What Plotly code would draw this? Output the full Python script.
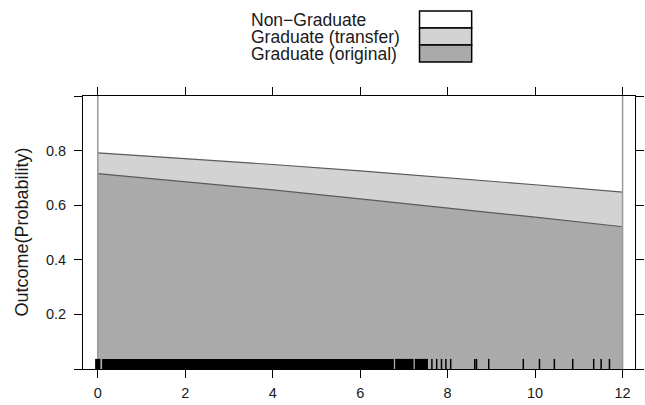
import plotly.graph_objects as go

# Predicted outcome probabilities along the x grid
x_grid = [0, 2, 4, 6, 8, 10, 12]
p_original = [0.716, 0.687, 0.656, 0.623, 0.590, 0.556, 0.521]
p_transfer = [0.076, 0.084, 0.093, 0.103, 0.111, 0.119, 0.127]
outcomes = ["Non\u2212Graduate", "Graduate (transfer)", "Graduate (original)"]
band_colors = ["#FFFFFF", "#D3D3D3", "#AAAAAA"]

# Rug of observed x values: stretches where ticks merge, then single ticks
rug_dense = [(-0.06, 0.06), (0.10, 6.77), (6.80, 7.22), (7.25, 7.55)]
rug_single = [7.64, 7.75, 7.86, 7.96, 8.07, 8.62, 8.66, 8.94, 9.73,
              10.10, 10.44, 10.86, 11.34, 11.51, 11.70]

x_ticks = [0, 2, 4, 6, 8, 10, 12]
y_ticks = [0.0, 0.2, 0.4, 0.6, 0.8, 1.0]
y_ticktext = ["", "0.2", "0.4", "0.6", "0.8", ""]

FONT = "Liberation Sans, Arial, Helvetica, sans-serif"
TXT = "#1a1a1a"
W, H = 645, 405
L, R, T, B = 83, 1, 96, 36
PW, PH = W - L - R, H - T - B

cum_orig = p_original
cum_trans = [a + b for a, b in zip(p_original, p_transfer)]
top = [1.0] * len(x_grid)
bottom = [0.0] * len(x_grid)

fig = go.Figure()

# stacked bands, drawn as closed polygons
bands = [(cum_trans, top, band_colors[0]),
         (cum_orig, cum_trans, band_colors[1]),
         (bottom, cum_orig, band_colors[2])]
for lower, upper, col in bands:
    fig.add_trace(go.Scatter(
        x=x_grid + x_grid[::-1], y=upper + lower[::-1],
        fill="toself", fillcolor=col, mode="lines",
        line=dict(width=0), hoverinfo="skip", showlegend=False))

# boundary curves between outcomes
for curve in (cum_trans, cum_orig):
    fig.add_trace(go.Scatter(x=x_grid, y=curve, mode="lines",
                             line=dict(color="#5a5a5a", width=1.2),
                             hoverinfo="skip", showlegend=False))

# vertical edges of the band region
for xe in (x_grid[0], x_grid[-1]):
    fig.add_trace(go.Scatter(x=[xe, xe], y=[0, 1], mode="lines",
                             line=dict(color="#9a9a9a", width=1.5),
                             hoverinfo="skip", showlegend=False))

# rug
rug_h = 0.037
for a, b in rug_dense:
    fig.add_trace(go.Scatter(x=[a, b, b, a, a], y=[0, 0, rug_h, rug_h, 0],
                             fill="toself", fillcolor="black", mode="lines",
                             line=dict(width=0), hoverinfo="skip",
                             showlegend=False))
rx, ry = [], []
for v in rug_single:
    rx += [v, v, None]
    ry += [0, rug_h, None]
fig.add_trace(go.Scatter(x=rx, y=ry, mode="lines",
                         line=dict(color="black", width=1.5),
                         hoverinfo="skip", showlegend=False))


def px_to_paper_x(px):
    return (px - L) / PW


def px_to_paper_y(py):
    return (H - B - py) / PH


# key above the panel
row_tops = [11, 28, 45]
row_h = 17
shapes = []
annotations = []
for name, col, rt in zip(outcomes, band_colors, row_tops):
    shapes.append(dict(type="rect", xref="paper", yref="paper",
                       x0=px_to_paper_x(425), x1=px_to_paper_x(478),
                       y0=px_to_paper_y(rt + row_h), y1=px_to_paper_y(rt),
                       fillcolor=col, line=dict(color="black", width=1.5)))
    annotations.append(dict(text=name, xref="paper", yref="paper",
                            x=px_to_paper_x(252), y=px_to_paper_y(rt + row_h / 2),
                            xanchor="left", yanchor="middle", showarrow=False,
                            font=dict(family=FONT, size=17.5, color=TXT)))

annotations.append(dict(text="Outcome(Probability)", xref="paper", yref="paper",
                        x=px_to_paper_x(20), y=0.5, textangle=-90,
                        xanchor="center", yanchor="middle", showarrow=False,
                        font=dict(family=FONT, size=18, color=TXT)))

fig.update_layout(
    width=W, height=H,
    margin=dict(l=L, r=R, t=T, b=B, pad=0),
    paper_bgcolor="white", plot_bgcolor="white",
    shapes=shapes, annotations=annotations,
    showlegend=False,
    xaxis=dict(range=[-0.337, 12.284], tickvals=x_ticks,
               ticks="outside", ticklen=8, tickwidth=1, tickcolor="black",
               showline=True, linecolor="black", linewidth=1, mirror="ticks",
               showgrid=False, zeroline=False, ticklabelstandoff=3,
               tickfont=dict(family=FONT, size=14.5, color=TXT)),
    yaxis=dict(range=[0, 1.0], tickvals=y_ticks, ticktext=y_ticktext,
               ticks="outside", ticklen=8, tickwidth=1, tickcolor="black",
               showline=True, linecolor="black", linewidth=1, mirror="ticks",
               showgrid=False, zeroline=False, ticklabelstandoff=5,
               tickfont=dict(family=FONT, size=14.5, color=TXT)),
)

fig.write_html("out.html")
